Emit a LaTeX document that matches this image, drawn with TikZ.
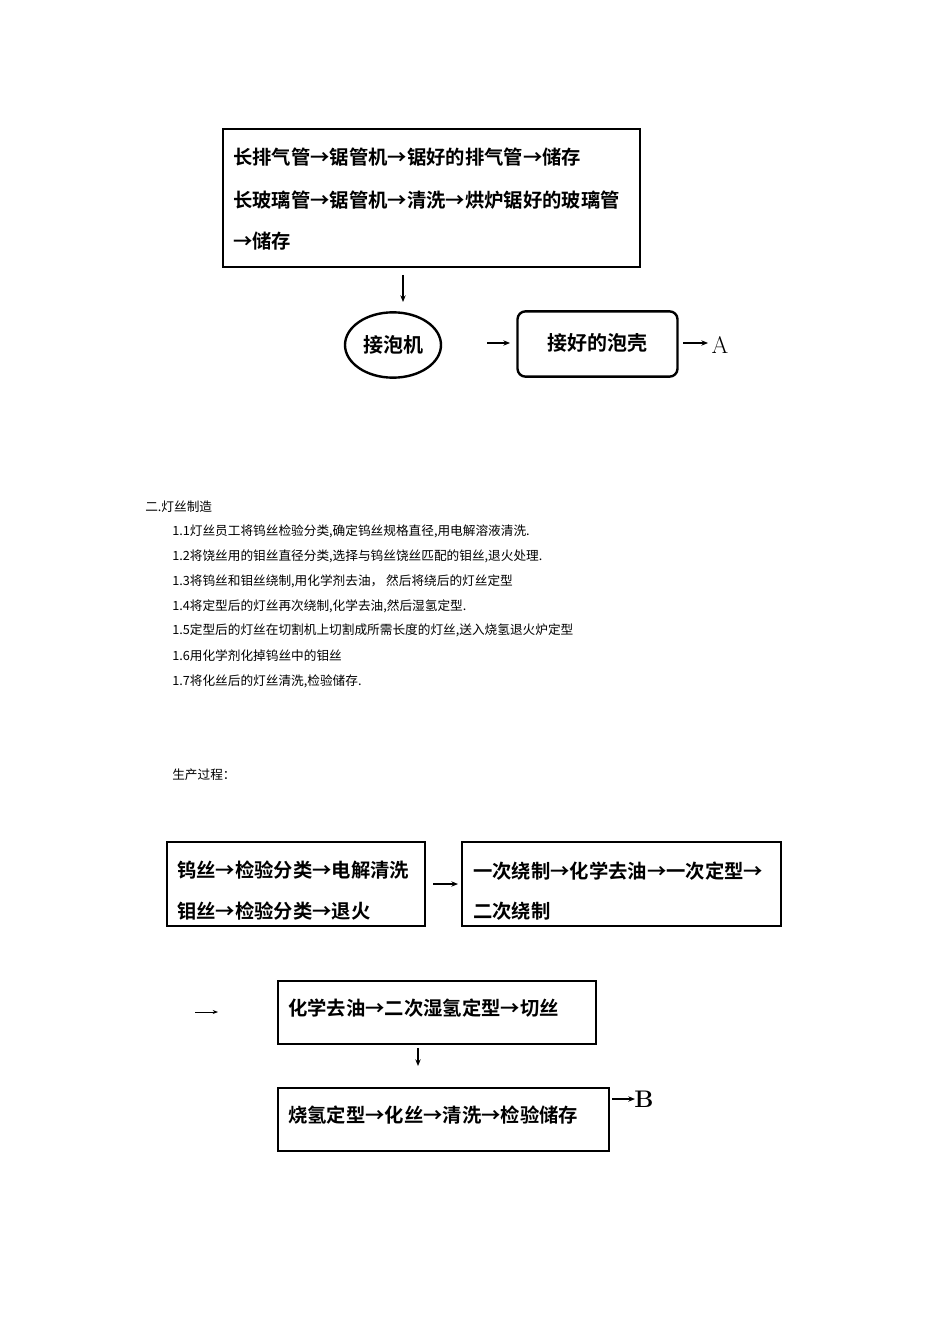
\documentclass[tikz,border=0pt]{standalone}
\usepackage{fontspec}
\newfontfamily\cjk{Noto Sans CJK SC}
\newfontfamily\cjkb{Noto Sans CJK SC Bold}
\usetikzlibrary{arrows.meta,shapes.geometric}
\begin{document}
\begin{tikzpicture}[x=0.75pt,y=-0.75pt,
 bx/.style={draw,line width=1pt},
 bt/.style={anchor=west,inner sep=0pt,font=\cjkb\fontsize{14.5}{16}\selectfont},
 st/.style={anchor=west,inner sep=0pt,font=\cjk\fontsize{9.5}{11}\selectfont},
 ar/.style={-{Stealth[length=5pt,width=4pt]},line width=0.8pt}]
\useasboundingbox (0,0) rectangle (950,1344);
\draw[bx] (223,129) rectangle (640,267);
\node[bt] (t1) at (233,157) {长排气管→锯管机→锯好的排气管→储存};
\node[bt] (t2) at (233,200) {长玻璃管→锯管机→清洗→烘炉锯好的玻璃管};
\node[bt] (t3) at (233,241) {→储存};
\coordinate (d1) at (403,275); \coordinate (d2) at (403,302);
\draw[ar] (d1)--(d2);
\node[draw,ellipse,line width=1.8pt,inner sep=0pt,minimum width=72pt,minimum height=49pt,font=\cjkb\fontsize{15}{16}\selectfont] (e) at (393,345) {接泡机};
\node[draw,rounded corners=6pt,line width=1.8pt,minimum width=120pt,minimum height=49pt,font=\cjkb\fontsize{15}{16}\selectfont] (r) at (597.5,344) {\raisebox{3pt}{接好的泡壳}\hspace{22pt}};
\coordinate (a1) at (487,343); \coordinate (a2) at (510,343);
\draw[ar] (a1)--(a2);
\coordinate (a3) at (683,343); \coordinate (a4) at (708,343);
\draw[ar] (a3)--(a4);
\node[font=\fontsize{18}{20}\selectfont] (A) at (720,345) {A};
\node[st] (h) at (145,507) {二.灯丝制造};
\node[st] (l1) at (172,531) {1.1灯丝员工将钨丝检验分类,确定钨丝规格直径,用电解溶液清洗.};
\node[st] (l2) at (172,556) {1.2将饶丝用的钼丝直径分类,选择与钨丝饶丝匹配的钼丝,退火处理.};
\node[st] (l3) at (172,581) {1.3将钨丝和钼丝绕制,用化学剂去油， 然后将绕后的灯丝定型};
\node[st] (l4) at (172,606) {1.4将定型后的灯丝再次绕制,化学去油,然后湿氢定型.};
\node[st] (l5) at (172,630) {1.5定型后的灯丝在切割机上切割成所需长度的灯丝,送入烧氢退火炉定型};
\node[st] (l6) at (172,656) {1.6用化学剂化掉钨丝中的钼丝};
\node[st] (l7) at (172,681) {1.7将化丝后的灯丝清洗,检验储存.};
\node[st] (p) at (172,775) {生产过程：};
\draw[bx] (167,842) rectangle (425,926);
\node[bt] (b1) at (177,870) {钨丝→检验分类→电解清洗};
\node[bt] (b2) at (177,911) {钼丝→检验分类→退火};
\coordinate (c1) at (433,884); \coordinate (c2) at (458,884);
\draw[ar] (c1)--(c2);
\draw[bx] (462,842) rectangle (781,926);
\node[bt] (b3) at (473,871) {一次绕制→化学去油→一次定型→};
\node[bt] (b4) at (473,911) {二次绕制};
\coordinate (f1) at (195,1012); \coordinate (f2) at (218,1012);
\draw[-{Stealth[length=4pt,width=3pt]},line width=0.5pt] (f1)--(f2);
\draw[bx] (278,981) rectangle (596,1044);
\node[bt] (b5) at (288,1008) {化学去油→二次湿氢定型→切丝};
\coordinate (g1) at (418,1048); \coordinate (g2) at (418,1066);
\draw[ar] (g1)--(g2);
\draw[bx] (278,1088) rectangle (609,1151);
\node[bt] (b6) at (288,1115) {烧氢定型→化丝→清洗→检验储存};
\coordinate (k1) at (612,1099); \coordinate (k2) at (635,1099);
\draw[ar,line width=1.2pt] (k1)--(k2);
\node[font=\bfseries\fontsize{18}{20}\selectfont] (B) at (644,1099) {B};
\end{tikzpicture}
\end{document}
